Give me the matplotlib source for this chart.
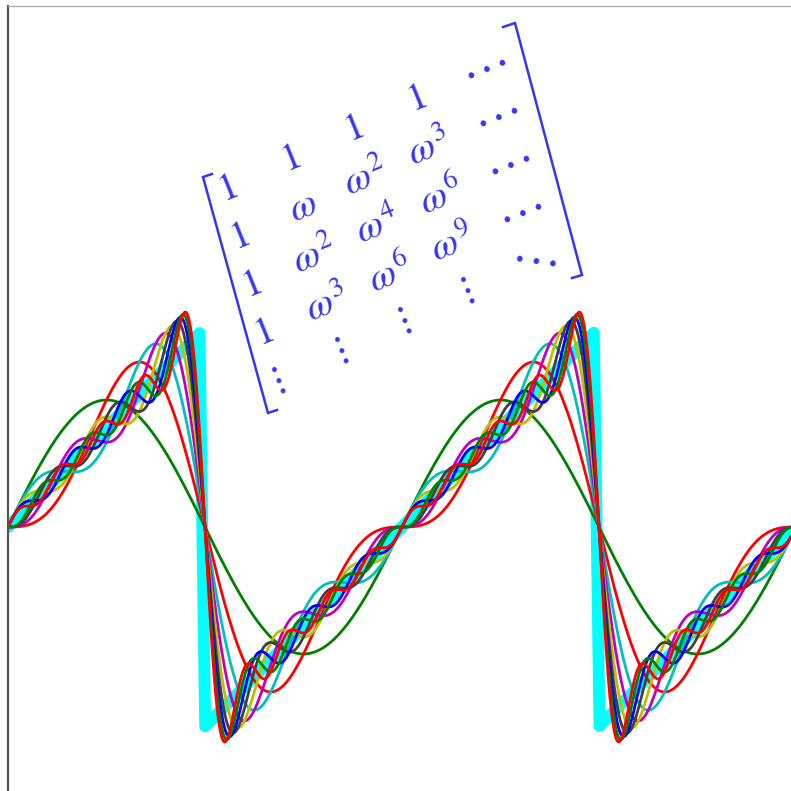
import numpy as np
import matplotlib
matplotlib.use("Agg")
import matplotlib.pyplot as plt

plt.rcParams['mathtext.fontset'] = 'stix'
plt.rcParams['font.family'] = ['STIXGeneral', 'DejaVu Serif']

# ---- data ----
N_TERMS = [1, 2, 3, 4, 5, 6, 7, 8, 9]              # harmonics in each partial sum
CURVE_COLORS = ['#008000', '#ff0000', '#00bfbf', '#bf00bf', '#bfbf00',
                '#404040', '#0000ff', '#008000', '#ff0000']
X_MAX = 12.487                                       # visible x range (radians)
SAW_SAMPLES = 140                                    # samples of the exact sawtooth
DOTS = '\u00b7 \u00b7 \u00b7'
MATRIX = [
    [r'$1$', r'$1$', r'$1$', r'$1$', DOTS],
    [r'$1$', r'$\omega$', r'$\omega^2$', r'$\omega^3$', DOTS],
    [r'$1$', r'$\omega^2$', r'$\omega^4$', r'$\omega^6$', DOTS],
    [r'$1$', r'$\omega^3$', r'$\omega^6$', r'$\omega^9$', DOTS],
    [r'$\vdots$', r'$\vdots$', r'$\vdots$', r'$\vdots$', DOTS],
]

W = H = 791
fig = plt.figure(figsize=(W / 100, H / 100), dpi=100)
ax = fig.add_axes([8 / W, 0, (W - 8) / W, (H - 6) / H])

# exact sawtooth (coarsely sampled)
xs = np.linspace(0, X_MAX, SAW_SAMPLES)
saw = np.mod(xs + np.pi, 2 * np.pi) - np.pi
ax.plot(xs, saw, color='#00ffff', lw=8.5, solid_capstyle='round',
        solid_joinstyle='round', zorder=1)

x = np.linspace(0, X_MAX, 4000)
for n, col in zip(N_TERMS, CURVE_COLORS):
    k = np.arange(1, n + 1)[:, None]
    s = 2 * np.sum((-1.0) ** (k + 1) * np.sin(k * x[None, :]) / k, axis=0)
    ax.plot(x, s, color=col, lw=2, zorder=2)

ax.set_xlim(0, X_MAX)
ax.set_ylim(-(791 - 527) / 63.5, (527 - 6) / 63.5)
ax.set_xticks([])
ax.set_yticks([])
ax.spines['right'].set_visible(False)
ax.spines['bottom'].set_visible(False)
ax.spines['left'].set_color('#555555')
ax.spines['left'].set_linewidth(1.6)
ax.spines['top'].set_color('#aaaaaa')
ax.spines['top'].set_linewidth(0.9)

# ---- skewed matrix annotation (pixel layout) ----
blue = '#3535f5'
origin = np.array([228.0, 190.0])
colvec = np.array([63.0, -30.0])
rowvec = np.array([12.0, 48.0])
for r, row in enumerate(MATRIX):
    for c, entry in enumerate(row):
        off = colvec * c if c < 4 else np.array([260.0, -118.0])
        p = origin + off + rowvec * r
        if c == 4:
            rot = -8 if r == 4 else 22
            fig.text(p[0] / W, 1 - p[1] / H, entry, color=blue, fontsize=24,
                     fontweight='bold', rotation=rot, ha='center', va='center',
                     rotation_mode='anchor')
        else:
            fig.text(p[0] / W, 1 - p[1] / H, entry, color=blue, fontsize=28,
                     rotation=22, ha='center', va='center',
                     rotation_mode='anchor')

lb = np.array([[212, 174], [203, 177], [268, 413], [277, 410]], float)
rb = np.array([[503, 27], [515, 23], [582, 275], [572, 278]], float)
for b in (lb, rb):
    fig.add_artist(plt.Line2D(b[:, 0] / W, 1 - b[:, 1] / H, color=blue,
                              lw=1.8, transform=fig.transFigure,
                              solid_joinstyle='miter'))

fig.savefig('out.png', dpi=100)
